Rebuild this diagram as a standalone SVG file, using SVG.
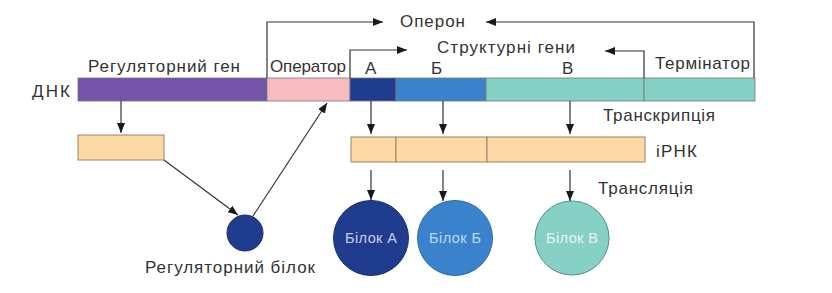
<svg xmlns="http://www.w3.org/2000/svg" width="832" height="293" viewBox="0 0 832 293">
<defs>
<marker id="ah" viewBox="0 0 10 8" refX="10" refY="4" markerWidth="10" markerHeight="8" markerUnits="userSpaceOnUse" orient="auto">
<path d="M0,0 L10,4 L0,8 Z" fill="#1a1a1a"/>
</marker>
</defs>
<style>
text{font-family:"Liberation Sans",Arial,sans-serif;font-size:17px;fill:#333}
.a{stroke:#333;stroke-width:1.2;fill:none;marker-end:url(#ah)}
.seg{stroke:#777;stroke-width:0.8}
.box{fill:#fdd9a5;stroke:#9a8466;stroke-width:1}
.in{font-size:14.5px;text-anchor:middle}
</style>
<rect width="832" height="293" fill="#fff"/>
<g id="dna">
<rect class="seg" x="78" y="78" width="189" height="23" fill="#7354a8"/>
<rect class="seg" x="267" y="78" width="83" height="23" fill="#f8bcc0"/>
<rect class="seg" x="350" y="78" width="46" height="23" fill="#1f3c8e"/>
<rect class="seg" x="396" y="78" width="90" height="23" fill="#3b82cd"/>
<rect class="seg" x="486" y="78" width="158" height="23" fill="#84d0c5"/>
<rect class="seg" x="644" y="78" width="111" height="23" fill="#84d0c5"/>
<text x="32" y="97" textLength="38">ДНК</text>
<text x="88" y="72" textLength="152">Регуляторний ген</text>
<text x="270" y="72" textLength="76">Оператор</text>
<text x="365" y="74">А</text>
<text x="431" y="74">Б</text>
<text x="562" y="74">В</text>
<text x="655" y="69" textLength="95">Термінатор</text>
</g>
<g id="labels">
<text x="400" y="27" textLength="65">Оперон</text>
<text x="437" y="53" textLength="138">Структурні гени</text>
<text x="603" y="121" textLength="112">Транскрипція</text>
<text x="656" y="157" textLength="41">іРНК</text>
<text x="598" y="194" textLength="95">Трансляція</text>
<text x="145" y="273" textLength="170">Регуляторний білок</text>
</g>
<g id="reg-mrna"><rect class="box" x="78" y="135" width="86" height="25"/></g>
<g id="mrna">
<rect class="box" x="351" y="137" width="45" height="25"/>
<rect class="box" x="396" y="137" width="91" height="25"/>
<rect class="box" x="487" y="137" width="158" height="25"/>
</g>
<g id="reg-protein"><circle cx="245" cy="233" r="18" fill="#1f3c8e" stroke="#1a2f6a" stroke-width="1"/></g>
<g id="protein-a"><circle cx="371" cy="238" r="37.5" fill="#1f3c8e" stroke="#1a2f6a" stroke-width="1"/><text class="in" x="371" y="243" textLength="52" style="fill:#c8cdf0">Білок А</text></g>
<g id="protein-b"><circle cx="455" cy="238" r="37.5" fill="#3b82cd" stroke="#2d6aa8" stroke-width="1"/><text class="in" x="455" y="243" textLength="52" style="fill:#b8dcf5">Білок Б</text></g>
<g id="protein-v"><circle cx="572" cy="238" r="37" fill="#86d0c5" stroke="#4f9088" stroke-width="1"/><text class="in" x="572" y="243" textLength="52" style="fill:#e4f6f2">Білок В</text></g>
<g id="connectors">
<path class="a" d="M267,78 V22 H383"/>
<path class="a" d="M754,78 V22 H486"/>
<path class="a" d="M350,78 V50 H407"/>
<path class="a" d="M644,78 V51 H605"/>
<path class="a" d="M121,101 V133"/>
<path class="a" d="M371,101 V134"/>
<path class="a" d="M443,101 V134"/>
<path class="a" d="M570,101 V134"/>
<path class="a" d="M371,170 V200"/>
<path class="a" d="M443,170 V201"/>
<path class="a" d="M570,170 V201"/>
<path class="a" d="M164,160 L238,215"/>
<path class="a" d="M253,216 L327,103"/>
</g>
</svg>
